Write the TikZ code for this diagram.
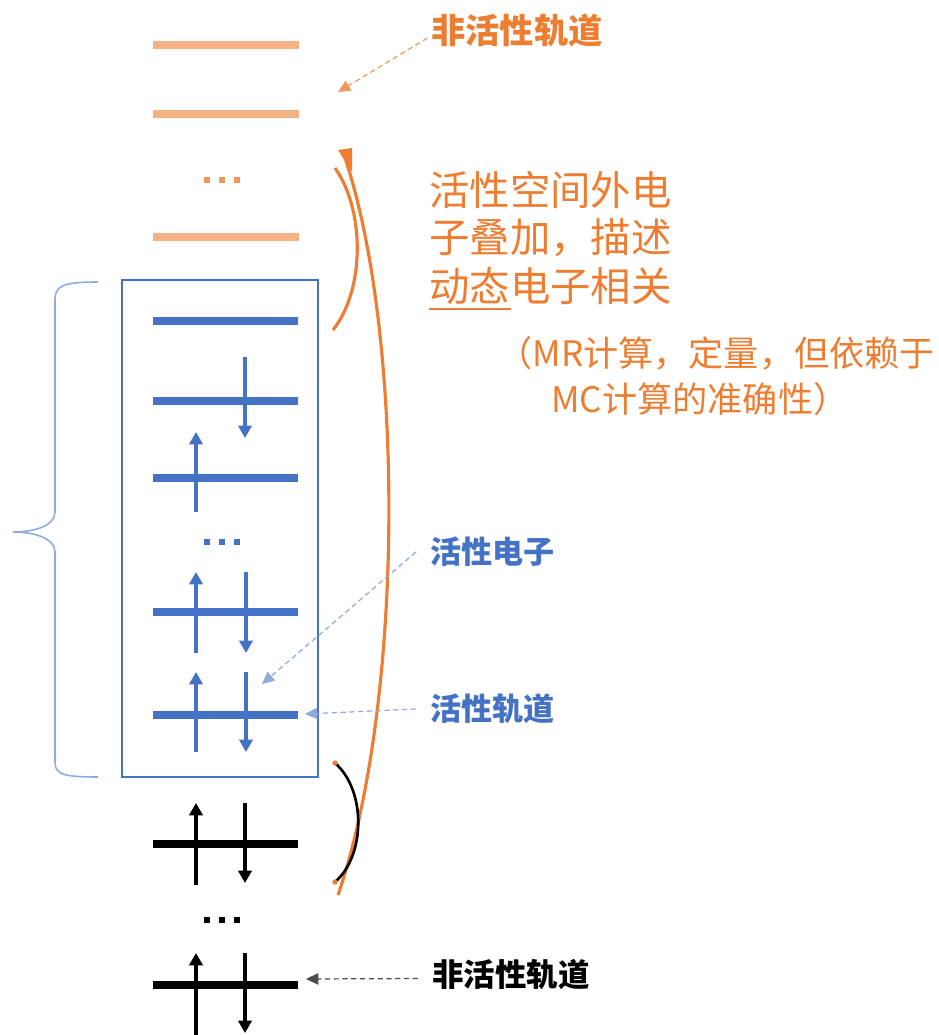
\documentclass[tikz,border=0pt]{standalone}
\usepackage{fontspec}
\setmainfont{Noto Sans CJK SC}
\usetikzlibrary{arrows.meta}
\definecolor{lorange}{HTML}{F4B183}
\definecolor{dorange}{HTML}{ED7D31}
\definecolor{oblue}{HTML}{4472C4}
\definecolor{lblue}{HTML}{8FAADC}
\tikzset{
  orb/.style={line width=5pt},
  spin/.style={line width=1.9pt,-{Triangle[width=7.5pt,length=7pt]}},
  dasharrow/.style={line width=0.7pt,dash pattern=on 3pt off 2pt,-{Triangle[width=6.5pt,length=7pt]}},
  lbl/.style={anchor=west,inner sep=0pt,font=\bfseries},
  dotmark/.style={minimum size=3.8pt,inner sep=0pt,rectangle},
}
\begin{document}
\begin{tikzpicture}[x=0.02cm,y=-0.02cm]
\useasboundingbox (0,0) rectangle (938,1035);

% inactive virtual orbitals (orange)
\foreach \y in {45,114,237} \draw[orb,lorange] (153,\y) -- (299,\y);
\foreach \x/\n in {207/a,222/b,237/c} \node[dotmark,fill=dorange!80] (od\n) at (\x,180) {};

% active space box
\node[draw=oblue,line width=1.1pt,minimum width=3.92cm,minimum height=9.94cm,inner sep=0pt] (box) at (220,528.5) {};
\foreach \y in {321,401,478,612,715} \draw[orb,oblue] (153,\y) -- (298,\y);
\foreach \x/\n in {207/a,222/b,237/c} \node[dotmark,fill=oblue] (bd\n) at (\x,542) {};
\draw[spin,oblue] (245,357) -- (245,438);
\draw[spin,oblue] (196,512) -- (196,432);
\draw[spin,oblue] (196,653) -- (196,572);
\draw[spin,oblue] (246,572) -- (246,653);
\draw[spin,oblue] (196,752) -- (196,672);
\draw[spin,oblue] (246,672) -- (246,752);

% brace
\draw[lblue,line width=0.9pt] (98,282) .. controls (62,282) and (55,286) .. (55,300) -- (55,512)
  .. controls (55,526) and (34,532) .. (13,532) .. controls (34,532) and (55,538) .. (55,552)
  -- (55,762) .. controls (55,774) and (62,777) .. (98,777);

% inactive core orbitals (black)
\foreach \y in {844,985} \draw[orb,black] (153,\y) -- (298,\y);
\foreach \x/\n in {207/a,222/b,237/c} \node[dotmark,fill=black] (kd\n) at (\x,920) {};
\draw[spin] (196,885) -- (196,803);
\draw[spin] (245,803) -- (245,883);
\draw[spin] (196,1040) -- (196,953);
\draw[spin] (245,953) -- (245,1033);

% arcs
\draw[dorange,line width=1.8pt] (343,152) .. controls (405,330) and (405,700) .. (338,895);
\fill[dorange] (338,150) -- (352,148) -- (352,172) -- cycle;
\draw[dorange,line width=1.8pt] (335,168) .. controls (365,210) and (365,290) .. (333,330);
\draw[black,line width=1.5pt] (335,763) .. controls (366,790) and (366,855) .. (335,882);
\fill[dorange] (335,763) circle[radius=1.5pt];
\fill[dorange] (335,882) circle[radius=1.5pt];

% labels
\node[lbl,dorange,font=\bfseries\fontsize{19.5}{22}\selectfont] (inactTop) at (431,31) {非活性轨道};
\coordinate (inactTopTip) at (338,92);
\draw[dasharrow,dorange!80] ([xshift=-2pt,yshift=-4pt]inactTop.west) -- (inactTopTip);

\node[lbl,oblue,font=\bfseries\fontsize{17.7}{20}\selectfont] (actEl) at (430,552) {活性电子};
\coordinate (actElTip) at (262,684);
\draw[dasharrow,lblue] ([xshift=-8pt]actEl.west) -- (actElTip);

\node[lbl,oblue,font=\bfseries\fontsize{17.7}{20}\selectfont] (actOrb) at (430,709) {活性轨道};
\coordinate (actOrbTip) at (305,714);
\draw[dasharrow,lblue] ([xshift=-8pt]actOrb.west) -- (actOrbTip);

\node[lbl,black,font=\bfseries\fontsize{17.9}{20}\selectfont] (inactBot) at (432,975) {非活性轨道};
\coordinate (inactBotTip) at (306,979);
\draw[dasharrow,black!70] ([xshift=-8pt,yshift=-2pt]inactBot.west) -- (inactBotTip);

% orange description
\node[anchor=west,inner sep=0pt,dorange,font=\fontsize{23}{26}\selectfont] (d1) at (429,190) {活性空间外电};
\node[anchor=west,inner sep=0pt,dorange,font=\fontsize{23}{26}\selectfont] (d2) at (429,238) {子叠加，描述};
\node[anchor=west,inner sep=0pt,dorange,font=\fontsize{23}{26}\selectfont] (d3) at (429,286) {动态电子相关};
\draw[dorange,line width=1.2pt] (429,309) -- (511,309);
\node[anchor=west,inner sep=0pt,dorange,font=\fontsize{20}{23}\selectfont] (m1) at (497,353) {（MR计算，定量，但依赖于};
\node[anchor=west,inner sep=0pt,dorange,font=\fontsize{20}{23}\selectfont] (m2) at (551,399) {MC计算的准确性）};
\end{tikzpicture}
\end{document}
